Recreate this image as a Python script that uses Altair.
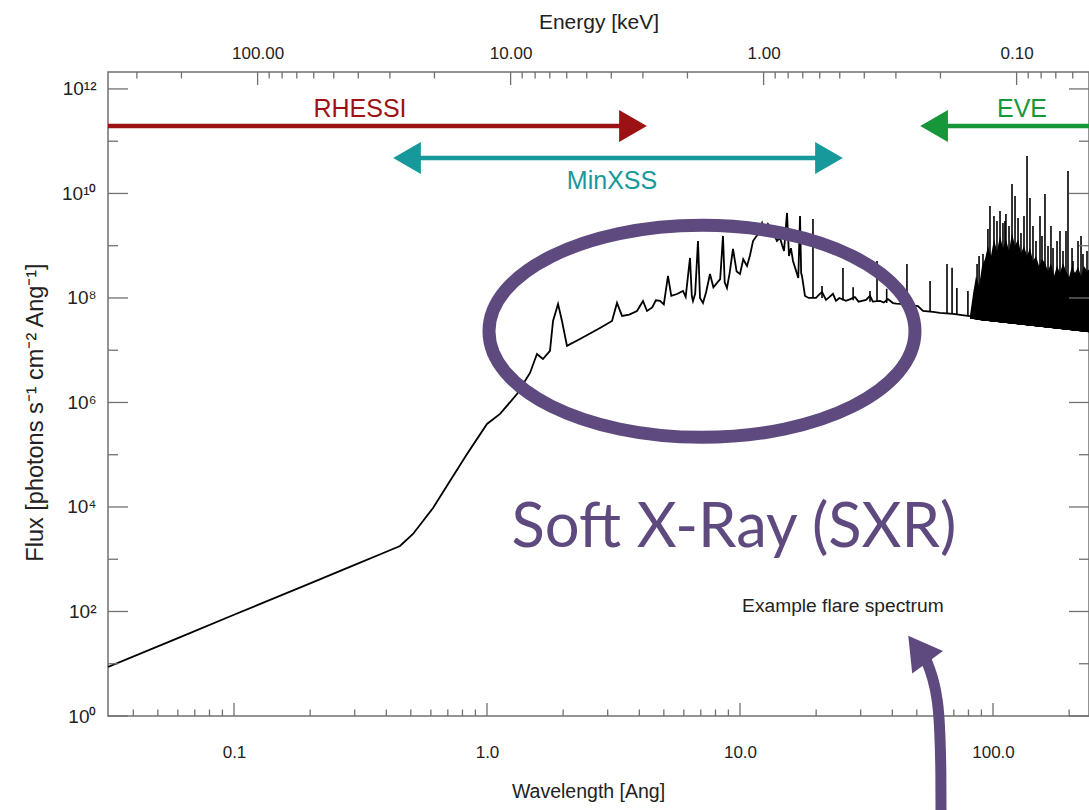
import altair as alt
import pandas as pd

# ---------------- data ----------------
# main spectrum trace (wavelength in Angstrom, flux)
wavelength = [0.0318, 0.06, 0.1, 0.2, 0.3, 0.4, 0.453, 0.51, 0.612, 0.714, 0.834, 1.0, 1.126,
              1.314, 1.479, 1.576, 1.664, 1.774, 1.824, 1.909, 1.979, 2.071, 2.331, 2.797, 3.12,
              3.265, 3.417, 3.65, 3.916, 4.136, 4.29, 4.5, 4.65, 4.829, 5.0, 5.193, 5.35, 5.636,
              5.953, 6.1, 6.345, 6.45, 6.52, 6.65, 6.823, 6.95, 7.141, 7.35, 7.611, 7.85, 8.114,
              8.35, 8.566, 8.7, 8.884, 9.1, 9.383, 9.7, 10.0, 10.3, 10.66, 10.95, 11.26, 11.7,
              12.22, 12.45, 12.67, 12.9, 13.14, 13.5, 14.0, 14.39, 14.7, 14.93, 15.34, 15.62,
              15.9, 16.2, 16.6, 17.0, 17.27, 17.45, 17.58, 18.07, 18.7, 19.97, 20.5, 21.1, 21.88,
              22.6, 23.31, 23.95, 24.7, 26.24, 27.3, 28.48, 29.4, 30.35, 31.5, 32.65, 33.5, 35.76,
              37.0, 38.46, 40.25, 41.5, 42.9, 47.0, 50.5, 52.9, 57.9, 61.7, 67.6, 70.8, 75.4,
              81.1, 88.8, 97.0, 106.6, 120.0, 140.0, 160.0, 184.0, 210.0, 239.6]
flux = [8.7, 31, 86.5, 346, 778, 1390, 1790, 3040, 9570, 3.15e4, 1.03e5, 3.88e5, 6.03e5,
        1.45e6, 3.67e6, 8.48e6, 6.8e6, 9.68e6, 3.63e7, 7.68e7, 3.63e7, 1.21e7, 1.64e7, 2.67e7, 3.63e7,
        8.02e7, 4.53e7, 4.8e7, 5.64e7, 8.77e7, 5.64e7, 6.6e7, 9.0e7, 8.77e7, 7.5e7, 2.64e8, 1.1e8, 1.19e8,
        1.36e8, 1.05e8, 5.83e8, 1.1e8, 8.77e7, 1.2e8, 1.23e9, 1.0e8, 8.02e7, 1.3e8, 2.88e8, 1.6e8, 1.94e8,
        2.3e8, 1.54e9, 2.0e8, 1.55e8, 3.0e8, 8.67e8, 3.2e8, 2.88e8, 5.5e8, 4.09e8, 6.5e8, 1.23e9, 1.6e9,
        2.72e9, 2.0e9, 1.75e9, 2.6e9, 2.39e9, 1.8e9, 1.23e9, 1.41e9, 1.0e9, 7.94e8, 4.24e9, 6.37e8,
        9.0e8, 5.1e8, 3.5e8, 2.4e8, 3.71e9, 3.0e8, 2.64e8, 1.09e8, 1.0e8, 1.0e8, 1.15e8, 1.3e8, 9.2e7,
        1.05e8, 1.2e8, 8.8e7, 1.0e8, 8.8e7, 9.5e7, 1.04e8, 8.5e7, 8.8e7, 9.2e7, 1.1e8, 8.5e7, 8.8e7,
        8.2e7, 9.5e7, 8.0e7, 7.8e7, 7.7e7, 7.3e7, 7.0e7, 5.64e7, 5.4e7, 5.2e7, 5.0e7, 4.9e7, 4.7e7,
        4.5e7, 4.14e7, 4.0e7, 3.79e7, 3.55e7, 3.32e7, 3.1e7, 2.91e7, 2.6e7, 2.36e7]

# narrow emission lines (wavelength, peak flux, continuum under the line)
line_wavelength = [19.43, 21.1, 25.53, 28.0, 32.65, 34.8, 38.0, 45.7, 56.4, 65.8, 68.9, 72.0, 79.6,
                   86.5, 88.1, 91.3, 95.5, 97.3, 100.9, 103.7, 106.6, 109.5, 111.5, 112.5, 115.7,
                   118.9, 122.2, 125.6, 129.0, 132.6, 136.3, 140.0, 143.9, 147.9, 153.4, 156.2,
                   160.5, 165.0, 169.5, 172.7, 179.1, 184.0, 189.1, 194.3, 197.9, 205.3, 207.1,
                   216.8, 222.8, 226.8, 235.3]
line_peak = [3.25e9, 1.7e8, 3.75e8, 1.6e8, 1.36e8, 5.1e8, 1.5e8, 4.48e8, 2.12e8, 4.48e8, 3.8e8, 1.55e8,
             1.36e8, 4.48e8, 6.37e8, 6.95e8, 2.09e9, 5.76e9, 3.71e9, 2.98e9, 4.62e9, 2.72e9, 2.98e9,
             4.05e9, 2.39e9, 1.52e10, 8.95e9, 3.4e9, 1.75e9, 3.71e9, 5.22e10, 8.2e9, 2.39e9, 1.23e9,
             3.71e9, 1.54e9, 9.8e9, 9.89e8, 2.39e9, 9.06e8, 1.23e9, 1.92e9, 7.94e8, 1.92e9, 2.7e10,
             9.06e8, 5.11e8, 1.23e9, 1.54e9, 6.95e8, 7.94e8]
line_base = [1.0e8, 1.0e8, 9.0e7, 9.0e7, 8.5e7, 8.5e7, 8.0e7, 7.5e7, 5.5e7, 5.1e7, 5.0e7, 4.9e7,
             4.6e7, 4.2e7, 4.15e7, 4.1e7, 4.05e7, 4.0e7, 3.95e7, 3.9e7, 3.8e7, 3.75e7, 3.7e7, 3.7e7,
             3.65e7, 3.6e7, 3.5e7, 3.45e7, 3.45e7, 3.4e7, 3.4e7, 3.3e7, 3.25e7, 3.2e7, 3.15e7, 3.1e7,
             3.1e7, 3.05e7, 3.0e7, 3.0e7, 2.95e7, 2.95e7, 2.9e7, 2.85e7, 2.8e7, 2.7e7, 2.7e7,
             2.6e7, 2.55e7, 2.5e7, 2.4e7]

# dense blend of EUV lines (lower and upper envelope)
blend_wavelength = [81.1, 83.4, 85.7, 88.1, 90.5, 93.0, 95.5, 98.2, 100.9, 103.7, 106.6, 109.5,
                    112.5, 115.7, 118.9, 122.2, 125.6, 129.0, 132.6, 136.3, 140.0, 143.9, 147.9,
                    152.0, 156.2, 160.5, 165.0, 169.5, 174.2, 179.1, 184.0, 189.1, 194.3, 199.7,
                    205.3, 210.9, 216.8, 222.8, 228.9, 235.3, 241.7]
blend_high = [4.6e7, 1.2e8, 2.64e8, 1.7e8, 4.1e8, 5.58e8, 9.89e8, 6.37e8, 1.35e9, 7.94e8, 1.54e9,
              9.06e8, 1.35e9, 7.94e8, 1.75e9, 9.89e8, 1.35e9, 7.26e8, 9.89e8, 6.37e8, 9.06e8, 5.11e8,
              6.37e8, 4.1e8, 5.58e8, 4.68e8, 3.29e8, 4.68e8, 2.64e8, 4.1e8, 3.02e8, 4.68e8, 3.29e8,
              2.5e8, 4.1e8, 3.02e8, 3.92e8, 2.64e8, 4.1e8, 3.29e8, 3.59e8]
blend_low = [3.96e7, 3.96e7, 3.79e7, 3.79e7, 3.63e7, 3.63e7, 3.63e7, 3.47e7, 3.47e7, 3.47e7, 3.33e7,
             3.33e7, 3.33e7, 3.18e7, 3.18e7, 3.18e7, 3.04e7, 3.04e7, 3.04e7, 2.91e7, 2.91e7, 2.91e7,
             2.79e7, 2.79e7, 2.79e7, 2.67e7, 2.67e7, 2.67e7, 2.55e7, 2.55e7, 2.55e7, 2.44e7, 2.44e7,
             2.44e7, 2.34e7, 2.34e7, 2.34e7, 2.23e7, 2.23e7, 2.23e7, 2.14e7]

# axis ticks
wl_major = [0.1, 1.0, 10.0, 100.0]
wl_minor = [0.04, 0.05, 0.06, 0.07, 0.08, 0.09, 0.2, 0.3, 0.4, 0.5, 0.6, 0.7, 0.8, 0.9,
            2, 3, 4, 5, 6, 7, 8, 9, 20, 30, 40, 50, 60, 70, 80, 90, 200]
energy_major = [100.0, 10.0, 1.0, 0.1]
energy_minor = [300, 200, 90, 80, 70, 60, 50, 40, 30, 20, 9, 8, 7, 6, 5, 4, 3, 2,
                0.9, 0.8, 0.7, 0.6, 0.5, 0.4, 0.3, 0.2, 0.09, 0.08, 0.07, 0.06]
flux_major = [1, 100, 10000, 1000000, 100000000, 10000000000, 1000000000000]
flux_major_labels = ["10⁰", "10²", "10⁴", "10⁶", "10⁸", "10¹⁰", "10¹²"]
flux_minor = [1e1, 1e3, 1e5, 1e7, 1e9, 1e11]
HC = 12.398  # keV * Angstrom

# instrument ranges (wavelength of arrow ends) and label positions
instruments = ["RHESSI", "MinXSS", "EVE"]
inst_start = [0.03177, 0.483, 58.5]
inst_end = [3.776, 22.48, 239.6]
inst_level = [1.96e11, 4.78e10, 1.96e11]
inst_colors = ["#9c1114", "#17999b", "#17973a"]
inst_label_wl = [0.3148, 3.12, 130.2]
inst_label_flux = [4.14e11, 1.73e10, 4.14e11]

PURPLE = "#5e4a7e"
FRAME = "#707070"
W, H = 981, 644

# ---------------- scales ----------------
xs = alt.Scale(type="log", domain=[0.03177, 239.6], nice=False)
ys = alt.Scale(type="log", domain=[1, 2.11e12], nice=False)

spec_df = pd.DataFrame({"wl": wavelength, "flux": flux})
lines_df = pd.DataFrame({"wl": line_wavelength, "peak": line_peak, "base": line_base})
blend_df = pd.DataFrame({"wl": blend_wavelength, "lo": blend_low, "hi": blend_high})

ylab_expr = " : ".join(
    f"abs(datum.value - {v}) < {v * 0.01} ? '{s}'" for v, s in zip(flux_major, flux_major_labels)) + " : ''"

bottom_axis = alt.Axis(values=wl_major, format=".1f", ticks=False, domain=False, grid=False,
                       labelPadding=28, title="Wavelength [Ang]", titlePadding=22,
                       titleFontSize=19.5, titleX=480)
left_axis = alt.Axis(values=flux_major, labelExpr=ylab_expr, ticks=False, domain=False, grid=False,
                     labelPadding=12, labelFontSize=19, title="Flux [photons s⁻¹ cm⁻² Ang⁻¹]",
                     titlePadding=14, titleFontSize=23.5, titleY=340)
top_axis = alt.Axis(orient="top", values=[HC / e for e in energy_major],
                    labelExpr=f"format({HC}/datum.value, '.2f')", ticks=False, domain=False,
                    grid=False, labelPadding=10, title="Energy [keV]", titlePadding=12,
                    titleFontSize=21)

blend = alt.Chart(blend_df).mark_area(color="black", clip=True, opacity=1).encode(
    x=alt.X("wl:Q", scale=xs, axis=None), y=alt.Y("lo:Q", scale=ys, axis=None), y2="hi:Q")
spikes = alt.Chart(lines_df).mark_rule(color="black", strokeWidth=1.6, clip=True).encode(
    x=alt.X("wl:Q", scale=xs, axis=None), y=alt.Y("base:Q", scale=ys, axis=None), y2="peak:Q")
spectrum = alt.Chart(spec_df).mark_line(color="black", strokeWidth=1.8, clip=True).encode(
    x=alt.X("wl:Q", scale=xs, axis=bottom_axis), y=alt.Y("flux:Q", scale=ys, axis=left_axis))

layers = [blend, spikes, spectrum]

# tick marks drawn inward from the frame
def xticks(vals, length, top, axis=None):
    df = pd.DataFrame({"v": vals})
    y0 = 0 if top else H
    y1 = length if top else H - length
    return alt.Chart(df).mark_rule(color=FRAME, strokeWidth=1.3).encode(
        x=alt.X("v:Q", scale=xs, axis=axis), y=alt.value(y0), y2=alt.value(y1))

def yticks(vals, length, right):
    df = pd.DataFrame({"v": vals})
    x0 = W if right else 0
    x1 = W - length if right else length
    return alt.Chart(df).mark_rule(color=FRAME, strokeWidth=1.3).encode(
        y=alt.Y("v:Q", scale=ys, axis=None), x=alt.value(x0), x2=alt.value(x1))

layers += [
    xticks(wl_major, 13, False), xticks(wl_minor, 6.5, False),
    xticks([HC / e for e in energy_major], 13, True, axis=top_axis),
    xticks([HC / e for e in energy_minor], 6.5, True),
    yticks(flux_major, 20, False), yticks(flux_minor, 10, False),
    yticks(flux_major, 20, True), yticks(flux_minor, 10, True),
]

# instrument arrows
for name, s, e, lev, col, lx, ly in zip(instruments, inst_start, inst_end, inst_level,
                                        inst_colors, inst_label_wl, inst_label_flux):
    seg = pd.DataFrame({"wl": [s], "wl2": [e], "f": [lev]})
    layers.append(alt.Chart(seg).mark_rule(color=col, strokeWidth=4.5).encode(
        x=alt.X("wl:Q", scale=xs, axis=None), x2="wl2:Q", y=alt.Y("f:Q", scale=ys, axis=None)))
    heads = []
    if name in ("RHESSI", "MinXSS"):
        heads.append((e, "triangle-right"))
    if name in ("MinXSS", "EVE"):
        heads.append((s, "triangle-left"))
    for hx, shp in heads:
        hd = pd.DataFrame({"wl": [hx], "f": [lev]})
        layers.append(alt.Chart(hd).mark_point(shape=shp, size=1024, filled=True, color=col,
                                               opacity=1, strokeWidth=0).encode(
            x=alt.X("wl:Q", scale=xs, axis=None), y=alt.Y("f:Q", scale=ys, axis=None)))
    lab = pd.DataFrame({"wl": [lx], "f": [ly], "t": [name]})
    layers.append(alt.Chart(lab).mark_text(color=col, font="Liberation Sans", fontSize=25,
                                           align="center", baseline="middle").encode(
        x=alt.X("wl:Q", scale=xs, axis=None), y=alt.Y("f:Q", scale=ys, axis=None), text="t:N"))

# highlight ellipse around the soft X-ray part
ELLIPSE = "M-1,0 A1,0.4977 0 1,1 1,0 A1,0.4977 0 1,1 -1,0 Z"
ell = pd.DataFrame({"wl": [7.076], "f": [2.3e7]})
layers.append(alt.Chart(ell).mark_point(shape=ELLIPSE, size=426 * 426, filled=False, color=PURPLE,
                                        strokeWidth=13, opacity=1).encode(
    x=alt.X("wl:Q", scale=xs, axis=None), y=alt.Y("f:Q", scale=ys, axis=None)))

# annotation texts
sxr = pd.DataFrame({"wl": [9.47], "f": [3.79e3], "t": ["Soft X-Ray (SXR)"]})
layers.append(alt.Chart(sxr).mark_text(color=PURPLE, font="Lato", fontSize=61.5, align="center",
                                       baseline="middle").encode(
    x=alt.X("wl:Q", scale=xs, axis=None), y=alt.Y("f:Q", scale=ys, axis=None), text="t:N"))
ex = pd.DataFrame({"wl": [25.5], "f": [127], "t": ["Example flare spectrum"]})
layers.append(alt.Chart(ex).mark_text(color="#222222", font="Liberation Sans", fontSize=19.2,
                                      align="center", baseline="middle").encode(
    x=alt.X("wl:Q", scale=xs, axis=None), y=alt.Y("f:Q", scale=ys, axis=None), text="t:N"))

# curved pointer arrow
arrow_wl = [53.85, 57.9, 60.6, 61.7, 62.3, 62.3]
arrow_flux = [13.5, 5.58, 1.94, 0.516, 0.0886, 0.0139]
arr = pd.DataFrame({"wl": arrow_wl, "f": arrow_flux, "o": list(range(len(arrow_wl)))})
layers.append(alt.Chart(arr).mark_line(color=PURPLE, strokeWidth=11, interpolate="basis").encode(
    x=alt.X("wl:Q", scale=xs, axis=None), y=alt.Y("f:Q", scale=ys, axis=None), order="o:Q"))
ahead = pd.DataFrame({"wl": [50.5], "f": [19.2]})
layers.append(alt.Chart(ahead).mark_point(shape="triangle-up", size=1444, angle=324, filled=True,
                                          color=PURPLE, opacity=1, strokeWidth=0).encode(
    x=alt.X("wl:Q", scale=xs, axis=None), y=alt.Y("f:Q", scale=ys, axis=None)))

chart = alt.layer(*layers).resolve_axis(x="independent", y="independent").properties(
    width=W, height=H,
    autosize=alt.AutoSizeParams(type="none"),
    padding={"left": 108, "top": 72, "right": 0, "bottom": 94},
    background="white",
).configure_view(stroke=FRAME, strokeWidth=1.5).configure_axis(
    labelFont="Liberation Sans", labelFontSize=17, labelColor="#222222",
    titleFont="Liberation Sans", titleFontSize=18.5, titleFontWeight="normal", titleColor="#222222",
)

chart.save("out.html", embed_options={"renderer": "svg", "actions": False})
